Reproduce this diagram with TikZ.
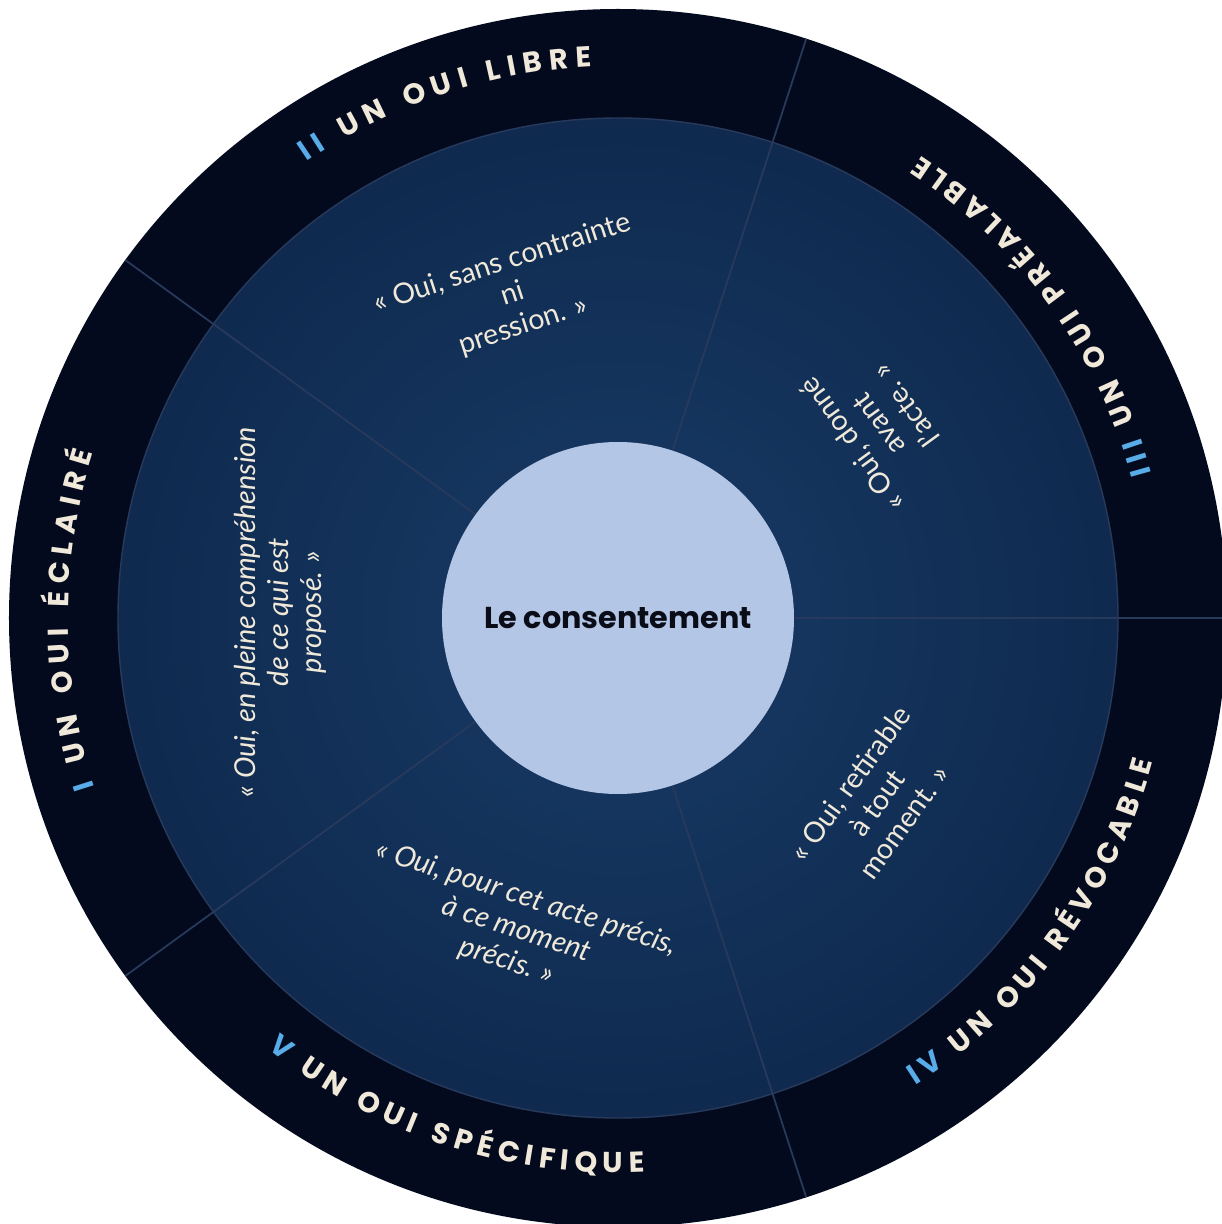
\documentclass[tikz,border=0pt]{standalone}
\usepackage{fontspec}
\setmainfont{Lato}
\newfontfamily\ringfamily{Poppins}
\usetikzlibrary{decorations.text}

\definecolor{ringnavy}{RGB}{3,10,30}
\definecolor{glowin}{RGB}{24,60,104}
\definecolor{glowout}{RGB}{6,23,52}
\definecolor{heartblue}{RGB}{180,198,230}
\definecolor{heartink}{RGB}{10,12,24}
\definecolor{cream}{RGB}{240,233,218}
\definecolor{numblue}{RGB}{88,172,232}
\definecolor{spoke}{RGB}{40,58,92}

\pgfdeclareradialshading{midglow}{\pgfpoint{0bp}{0bp}}{color(0bp)=(glowin); color(50bp)=(glowout)}

\newcommand\ringtype{\ringfamily\bfseries\fontsize{8.2}{10}\selectfont}

\begin{document}
\begin{tikzpicture}[
    quote/.style={text=cream, align=center, inner sep=0pt, font=\fontsize{8.1}{9.4}\selectfont},
    slanted/.style={quote, font=\fontsize{8.2}{9.4}\selectfont\itshape},
    divider/.style={draw=spoke, line width=0.5pt},
    ringlabel/.style={decorate, decoration={text along path, text color=cream, text align={fit to path}, text={#1}}}
  ]
  \useasboundingbox (-6.18,-6.06) rectangle (6.03,6.18);
  \fill[white] (-6.18,-6.06) rectangle (6.03,6.18);

  % rings
  \fill[ringnavy] (0,0) circle (6.09);
  \shade[shading=midglow, draw=spoke, line width=0.4pt] (0,0) circle (5.00);
  \node[circle, fill=heartblue, text=heartink, minimum size=3.52cm, font=\ringfamily\bfseries\fontsize{8.6}{11}\selectfont] (coeur) at (0,0) {Le consentement};
  \foreach \a in {0,72,...,288}
    \draw[divider] (coeur.\a) -- (\a:6.09);

  % the five quotes
  \node[slanted, rotate=90] (qeclaire) at (179:3.38) {« Oui, en pleine compréhension\\de ce qui est\\proposé. »};
  \node[quote, rotate=18] (qlibre) at (108:3.40) {« Oui, sans contrainte\\ni\\pression. »};
  \node[quote, rotate=126] (qprealable) at (36.5:3.24) {« Oui, donné\\avant\\l’acte. »};
  \node[quote, rotate=54] (qrevocable) at (-35.5:3.18) {« Oui, retirable\\à tout\\moment. »};
  \node[slanted, rotate=-18] (qspecifique) at (252:3.28) {« Oui, pour cet acte précis,\\à ce moment\\précis. »};

  % ring labels
  \path[ringlabel={|\ringtype\color{numblue}|I |\ringtype\color{cream}|UN OUI ÉCLAIRÉ}] (198:5.50) arc[start angle=198, end angle=162.5, radius=5.50];
  \path[ringlabel={|\ringtype\color{numblue}|II |\ringtype\color{cream}|UN OUI LIBRE}] (124.3:5.52) arc[start angle=124.3, end angle=92.7, radius=5.52];
  \path[ringlabel={|\ringtype\color{numblue}|III |\ringtype\color{cream}|UN OUI PRÉALABLE}] (15.2:5.53) arc[start angle=15.2, end angle=56.8, radius=5.53];
  \path[ringlabel={|\ringtype\color{numblue}|IV |\ringtype\color{cream}|UN OUI RÉVOCABLE}] (-57.5:5.54) arc[start angle=-57.5, end angle=-15, radius=5.54];
  \path[ringlabel={|\ringtype\color{numblue}|V |\ringtype\color{cream}|UN OUI SPÉCIFIQUE}] (230.8:5.55) arc[start angle=230.8, end angle=272.8, radius=5.55];
\end{tikzpicture}
\end{document}
